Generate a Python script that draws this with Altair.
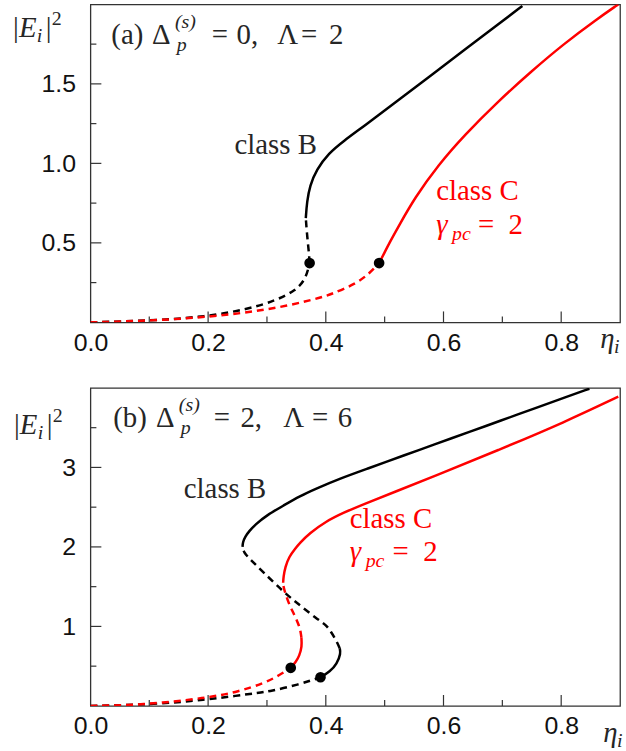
import altair as alt
import pandas as pd

# ---------------- panel (a): Delta=0, Lambda=2 ----------------
A_B_DASH1_X = [0.0, 0.10, 0.197, 0.27, 0.315, 0.349, 0.366, 0.3725]
A_B_DASH1_Y = [0.0, 0.01, 0.035, 0.085, 0.1375, 0.2, 0.273, 0.373]
A_B_DASH2_X = [0.3725, 0.3715, 0.3695, 0.3675, 0.366]
A_B_DASH2_Y = [0.373, 0.43, 0.50, 0.58, 0.656]
A_B_SOLID_X = [0.366, 0.368, 0.373, 0.384, 0.405, 0.43, 0.467, 0.523, 0.579, 0.636, 0.692, 0.734]
A_B_SOLID_Y = [0.656, 0.76, 0.86, 0.96, 1.064, 1.14, 1.24, 1.397, 1.554, 1.715, 1.872, 1.99]
A_C_DASH_X = [0.0, 0.03, 0.14, 0.225, 0.281, 0.338, 0.394, 0.411, 0.45, 0.475, 0.4906]
A_C_DASH_Y = [0.0, 0.002, 0.017, 0.044, 0.07, 0.106, 0.158, 0.18, 0.24, 0.31, 0.373]
A_C_SOLID_X = [0.4906, 0.5, 0.508, 0.523, 0.551, 0.591, 0.636, 0.692, 0.748, 0.8045, 0.861, 0.897]
A_C_SOLID_Y = [0.373, 0.44, 0.50, 0.60, 0.783, 0.99, 1.18, 1.3875, 1.575, 1.752, 1.908, 2.0]
A_DOTS_X = [0.3725, 0.4906]
A_DOTS_Y = [0.373, 0.373]

# ---------------- panel (b): Delta=2, Lambda=6 ----------------
B_B_DASH_LOW_X = [0.0, 0.103, 0.199, 0.249, 0.283, 0.3055, 0.353, 0.391]
B_B_DASH_LOW_Y = [0.0, 0.016, 0.079, 0.129, 0.1625, 0.184, 0.266, 0.36]
B_B_SOLID_LOW_X = [0.391, 0.407, 0.419, 0.4255, 0.4236]
B_B_SOLID_LOW_Y = [0.36, 0.43, 0.53, 0.6625, 0.725]
B_B_DASH_MID_X = [0.4236, 0.418, 0.409, 0.401, 0.384, 0.357, 0.33, 0.294, 0.272, 0.2605, 0.2585]
B_B_DASH_MID_Y = [0.725, 0.82, 0.93, 1.016, 1.1, 1.26, 1.42, 1.68, 1.84, 1.93, 2.0]
B_B_SOLID_UP_X = [0.2585, 0.259, 0.263, 0.27, 0.28, 0.2999, 0.328, 0.356, 0.384, 0.424, 0.469,
                  0.536, 0.581, 0.649, 0.694, 0.761, 0.806, 0.848]
B_B_SOLID_UP_Y = [2.0, 2.06, 2.13, 2.2, 2.28, 2.40, 2.52, 2.64, 2.735, 2.86, 2.98,
                  3.16, 3.28, 3.46, 3.58, 3.76, 3.88, 3.99]
B_C_DASH_LOW_X = [0.0, 0.086, 0.199, 0.252, 0.297, 0.322, 0.3404]
B_C_DASH_LOW_Y = [0.0, 0.01, 0.1, 0.18, 0.29, 0.39, 0.479]
B_C_SOLID_LOW_X = [0.3404, 0.349, 0.355, 0.3595, 0.3585]
B_C_SOLID_LOW_Y = [0.479, 0.55, 0.63, 0.746, 0.86]
B_C_DASH_MID_X = [0.3585, 0.357, 0.353, 0.345, 0.338, 0.331, 0.328, 0.3275]
B_C_DASH_MID_Y = [0.86, 0.95, 1.04, 1.17, 1.27, 1.42, 1.50, 1.55]
B_C_SOLID_UP_X = [0.3275, 0.328, 0.331, 0.338, 0.347, 0.356, 0.372, 0.40, 0.43, 0.465, 0.52,
                  0.581, 0.694, 0.806, 0.897]
B_C_SOLID_UP_Y = [1.55, 1.62, 1.75, 1.88, 1.97, 2.05, 2.17, 2.32, 2.43, 2.54, 2.70,
                  2.88, 3.22, 3.57, 3.89]
B_DOTS_X = [0.391, 0.3404]
B_DOTS_Y = [0.36, 0.479]

# ticks
X_MAJOR = [0.2, 0.4, 0.6, 0.8]
X_MINOR = [0.1, 0.3, 0.5, 0.7]
X_LABELS = [0.0, 0.2, 0.4, 0.6, 0.8]
A_Y_MAJOR = [0.5, 1.0, 1.5]
A_Y_MINOR = [0.25, 0.75, 1.25, 1.75]
B_Y_MAJOR = [1, 2, 3]
B_Y_MINOR = [0.5, 1.5, 2.5, 3.5]

W, H = 533, 320
BLACK, RED = "#000000", "#ff0000"
SERIF = "Liberation Serif"
TXT = "#262626"
FS = 29
SUB = 20
LBL = 25


def segs(parts):
    frames = []
    for i, (xs, ys, color) in enumerate(parts):
        frames.append(pd.DataFrame({"x": xs, "y": ys, "seg": i, "color": color,
                                    "ord": list(range(len(xs)))}))
    return pd.concat(frames, ignore_index=True)


def txt(s, x, y, size=FS, color=TXT, style="normal", font=SERIF):
    return alt.Chart(alt.Data(values=[{}])).mark_text(
        text=s, fontSize=size, font=font, fontStyle=style, color=color,
        align="left", baseline="alphabetic"
    ).encode(x=alt.value(x), y=alt.value(y))


def panel(solid, dashed, dots_x, dots_y, ydom, ymaj, ymin, yfmt, texts):
    xs = alt.Scale(domain=[0, 0.9], nice=False, zero=False)
    ys = alt.Scale(domain=ydom, nice=False, zero=False)
    xax = alt.Axis(values=X_LABELS, format=".1f", labelPadding=8, title=None, labelFlush=False,
                   labelFont="Liberation Sans", labelFontSize=LBL, labelColor="#111")
    yax = alt.Axis(values=ymaj, format=yfmt, labelPadding=15, title=None, labelFlush=False,
                   labelFont="Liberation Sans", labelFontSize=LBL, labelColor="#111")

    def X():
        return alt.X("x:Q", scale=xs, axis=xax, title=None)

    def Y():
        return alt.Y("y:Q", scale=ys, axis=yax, title=None)

    solid_l = alt.Chart(solid).mark_line(strokeWidth=2.5, interpolate="basis", clip=True).encode(
        x=X(), y=Y(), detail="seg:N", order="ord:Q", color=alt.Color("color:N", scale=None))
    dash_l = alt.Chart(dashed).mark_line(strokeWidth=2.5, strokeDash=[7, 5], interpolate="basis",
                                         clip=True).encode(
        x=X(), y=Y(), detail="seg:N", order="ord:Q", color=alt.Color("color:N", scale=None))
    dots = alt.Chart(pd.DataFrame({"x": dots_x, "y": dots_y})).mark_circle(
        size=115, color="black", opacity=1).encode(x=X(), y=Y())
    col = "#333"
    ytk_maj = alt.Chart(pd.DataFrame({"y": ymaj})).mark_rule(color=col, strokeWidth=1.2).encode(
        y=Y(), x=alt.value(0), x2=alt.value(11))
    ytk_min = alt.Chart(pd.DataFrame({"y": ymin})).mark_rule(color=col, strokeWidth=1.2).encode(
        y=Y(), x=alt.value(0), x2=alt.value(6))
    xtk_maj = alt.Chart(pd.DataFrame({"x": X_MAJOR})).mark_rule(color=col, strokeWidth=1.2).encode(
        x=X(), y=alt.value(H), y2=alt.value(H - 11))
    xtk_min = alt.Chart(pd.DataFrame({"x": X_MINOR})).mark_rule(color=col, strokeWidth=1.2).encode(
        x=X(), y=alt.value(H), y2=alt.value(H - 6))
    layers = [solid_l, dash_l, dots, ytk_maj, ytk_min, xtk_maj, xtk_min] + texts
    return alt.layer(*layers).properties(width=W, height=H)


a_solid = segs([(A_B_SOLID_X, A_B_SOLID_Y, BLACK), (A_C_SOLID_X, A_C_SOLID_Y, RED)])
a_dash = segs([(A_B_DASH1_X, A_B_DASH1_Y, BLACK), (A_B_DASH2_X, A_B_DASH2_Y, BLACK),
               (A_C_DASH_X, A_C_DASH_Y, RED)])
b_solid = segs([(B_B_SOLID_LOW_X, B_B_SOLID_LOW_Y, BLACK), (B_B_SOLID_UP_X, B_B_SOLID_UP_Y, BLACK),
                (B_C_SOLID_LOW_X, B_C_SOLID_LOW_Y, RED), (B_C_SOLID_UP_X, B_C_SOLID_UP_Y, RED)])
b_dash = segs([(B_B_DASH_LOW_X, B_B_DASH_LOW_Y, BLACK), (B_B_DASH_MID_X, B_B_DASH_MID_Y, BLACK),
               (B_C_DASH_LOW_X, B_C_DASH_LOW_Y, RED), (B_C_DASH_MID_X, B_C_DASH_MID_Y, RED)])

a_texts = [
    txt("(a)", 21, 40), txt("Δ", 62, 40), txt("(s)", 85, 24, SUB, style="italic"),
    txt("p", 87, 47, SUB, style="italic"), txt("=", 122, 40), txt("0,", 147, 40),
    txt("Λ", 188, 40), txt("=", 212, 40), txt("2", 240, 40),
    txt("class B", 145, 151),
    txt("class C", 348, 197, color=RED), txt("γ", 348, 231, color=RED, style="italic"),
    txt("pc", 364, 237, SUB, color=RED, style="italic"), txt("=\u20022", 390, 231, color=RED),
    txt("|", -78, 33), txt("E", -72, 33, style="italic"), txt("i", -54, 38, SUB, style="italic"),
    txt("|", -45, 33), txt("2", -39, 21, SUB),
    txt("η", 513, 346, style="italic"), txt("i", 527, 351, SUB, style="italic"),
]
b_texts = [
    txt("(b)", 23, 39), txt("Δ", 66, 39), txt("(s)", 89, 23, SUB, style="italic"),
    txt("p", 91, 46, SUB, style="italic"), txt("=", 124, 39), txt("2,", 151, 39),
    txt("Λ", 194, 39), txt("=", 223, 39), txt("6", 249, 39),
    txt("class B", 94, 111),
    txt("class C", 261, 141, color=RED), txt("γ", 261, 174, color=RED, style="italic"),
    txt("pc", 277, 180, SUB, color=RED, style="italic"), txt("=\u20022", 304, 174, color=RED),
    txt("|", -77, 46), txt("E", -71, 46, style="italic"), txt("i", -53, 51, SUB, style="italic"),
    txt("|", -44, 46), txt("2", -38, 34, SUB),
    txt("η", 516, 356, style="italic"), txt("i", 530, 361, SUB, style="italic"),
]

pa = panel(a_solid, a_dash, A_DOTS_X, A_DOTS_Y, [0, 2], A_Y_MAJOR, A_Y_MINOR, ".1f", a_texts)
pb = panel(b_solid, b_dash, B_DOTS_X, B_DOTS_Y, [0, 4], B_Y_MAJOR, B_Y_MINOR, "d", b_texts)

chart = alt.vconcat(pa, pb, spacing=29).properties(
    padding={"left": 12, "top": 1, "right": 2, "bottom": 2}
).configure_view(stroke="#333", strokeWidth=1.3).configure_axis(
    grid=False, ticks=False, domain=False
).configure_concat(spacing=29)

chart.save("out.html", embed_options={"renderer": "svg", "actions": False})
